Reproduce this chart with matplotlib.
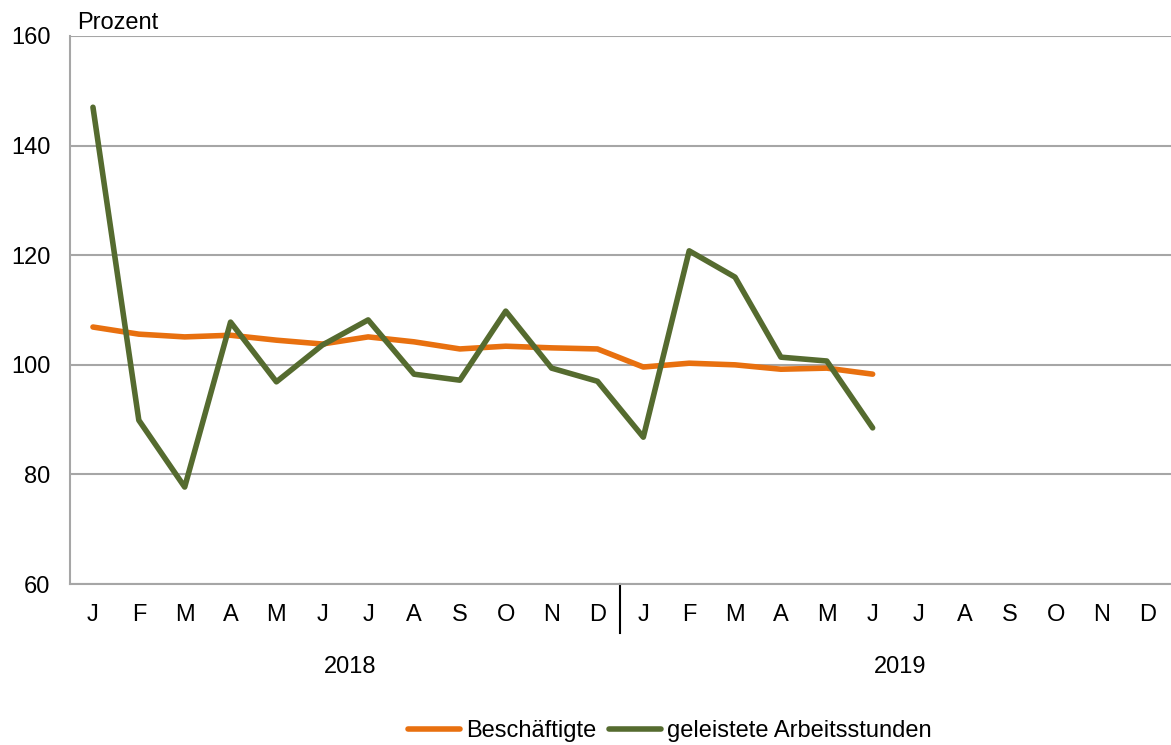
import matplotlib.pyplot as plt
import numpy as np

plt.rcParams['font.family'] = ['Liberation Sans', 'DejaVu Sans']

months = ['J', 'F', 'M', 'A', 'M', 'J', 'J', 'A', 'S', 'O', 'N', 'D',
          'J', 'F', 'M', 'A', 'M', 'J', 'J', 'A', 'S', 'O', 'N', 'D']
years = ['2018', '2019']

beschaeftigte = [106.9, 105.6, 105.1, 105.4, 104.5, 103.8, 105.1, 104.2, 102.9, 103.4, 103.1, 102.9,
                 99.6, 100.3, 100.0, 99.2, 99.4, 98.3]
arbeitsstunden = [147.0, 89.9, 77.7, 107.8, 96.9, 103.6, 108.2, 98.3, 97.2, 109.8, 99.4, 97.0,
                  86.8, 120.8, 116.0, 101.4, 100.7, 88.5]

orange = '#E8700F'
green = '#556B2F'
grey = '#A6A6A6'

fig = plt.figure(figsize=(11.71, 7.45), dpi=100)
ax = fig.add_axes([0.0598, 0.216, 0.94, 0.7357])

ax.plot(np.arange(len(beschaeftigte)), beschaeftigte, color=orange, lw=4,
        label='Beschäftigte', solid_capstyle='round')
ax.plot(np.arange(len(arbeitsstunden)), arbeitsstunden, color=green, lw=4,
        label='geleistete Arbeitsstunden', solid_capstyle='round')

ax.set_xlim(-0.5, 23.5)
ax.set_ylim(60, 160)
ax.set_yticks([60, 80, 100, 120, 140, 160])
ax.yaxis.grid(True, color=grey, lw=1.5)
ax.set_axisbelow(True)
for s in ['top', 'right']:
    ax.spines[s].set_visible(False)
for s in ['left', 'bottom']:
    ax.spines[s].set_color(grey)
    ax.spines[s].set_linewidth(1.5)

ax.set_xticks(np.arange(24))
ax.set_xticklabels(months)
ax.tick_params(axis='x', length=0, pad=14, labelsize=17)
ax.tick_params(axis='y', length=0, pad=14, labelsize=17)

# year labels and divider
for i, yr in enumerate(years):
    ax.text(5.6 + 12 * i, -0.152, yr, transform=ax.get_xaxis_transform(),
            ha='center', va='center', fontsize=17)
ax.plot([11.5, 11.5], [0, -0.09], transform=ax.get_xaxis_transform(),
        color='black', lw=1.5, clip_on=False)

ax.text(0.006, 1.003, 'Prozent', transform=ax.transAxes, ha='left', va='bottom', fontsize=17)

fig.legend(loc='center', bbox_to_anchor=(0.572, 0.019), ncol=2, frameon=False,
           fontsize=17, handlelength=2.2, handletextpad=0.25, columnspacing=0.55)

fig.savefig('out.png', dpi=100)
